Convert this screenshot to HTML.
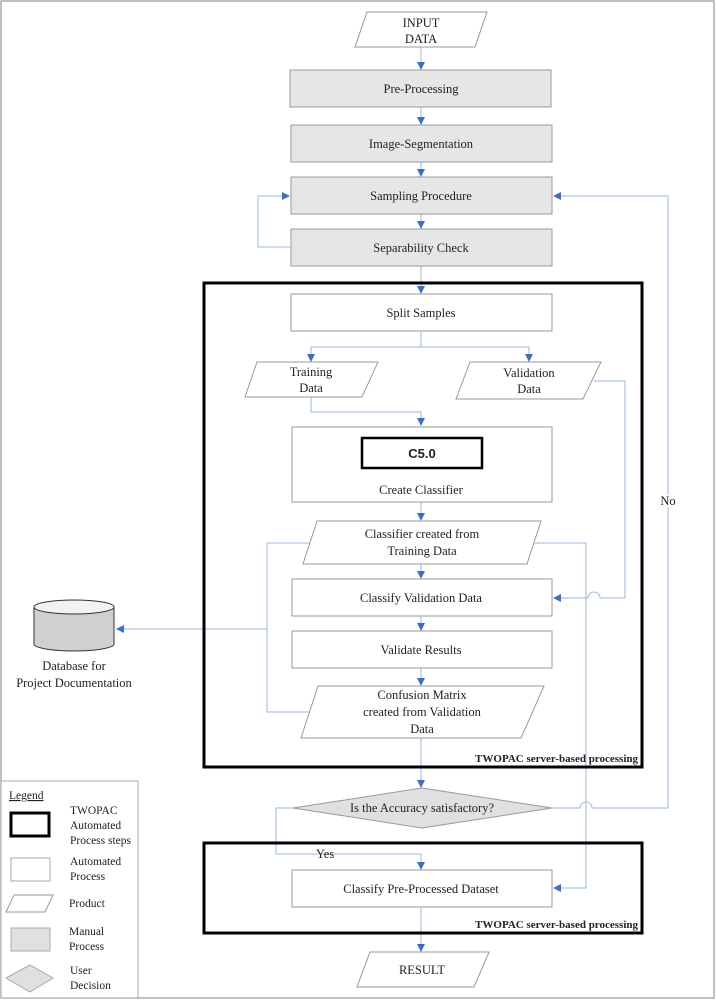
<!DOCTYPE html>
<html><head><meta charset="utf-8"><style>
html,body{margin:0;padding:0;background:#fff}
svg{display:block}
text{font-family:"Liberation Serif",serif;font-size:12.5px;fill:#222}
.b{font-family:"Liberation Sans",sans-serif;font-weight:bold;font-size:13px}
.tw{font-weight:bold;font-size:11px}
</style></head><body>
<svg width="716" height="1000" viewBox="0 0 716 1000" xmlns="http://www.w3.org/2000/svg">
<defs><marker id="a" markerWidth="8" markerHeight="8" refX="7" refY="4" orient="auto" markerUnits="userSpaceOnUse"><path d="M0,0 L8,4 L0,8 z" fill="#3b6fc4"/></marker></defs>
<rect x="1" y="1" width="713" height="997" fill="#fff" stroke="#aaa" stroke-width="1.5"/>
<g fill="none" stroke="#9ab8e0" stroke-width="1">
<path d="M421,47 V69" marker-end="url(#a)"/>
<path d="M421,107 V124" marker-end="url(#a)"/>
<path d="M421,162 V176" marker-end="url(#a)"/>
<path d="M421,214 V228" marker-end="url(#a)"/>
<path d="M290,247 H258 V196 H289" marker-end="url(#a)"/>
<path d="M421,266 V293" marker-end="url(#a)"/>
<path d="M421,331 V347 H311 V361" marker-end="url(#a)"/>
<path d="M421,347 H529 V361" marker-end="url(#a)"/>
<path d="M311,397 V412 H421 V425" marker-end="url(#a)"/>
<path d="M594,381 H625 V598 H600 A6,6 0 0 0 588,598 H554" marker-end="url(#a)"/>
<path d="M421,502 V520" marker-end="url(#a)"/>
<path d="M421,564 V578" marker-end="url(#a)"/>
<path d="M421,616 V630" marker-end="url(#a)"/>
<path d="M421,668 V685" marker-end="url(#a)"/>
<path d="M421,738 V787" marker-end="url(#a)"/>
<path d="M312,543 H267 V712 H309"/>
<path d="M267,629 H117" marker-end="url(#a)"/>
<path d="M532,543 H586 V888 H554" marker-end="url(#a)"/>
<path d="M552,808 H580 A6,6 0 0 1 592,808 H668 V196 H554" marker-end="url(#a)"/>
<path d="M293,808 H276 V854 H421 V869" marker-end="url(#a)"/>
<path d="M421,907 V951" marker-end="url(#a)"/>
</g>
<rect x="204" y="283" width="438" height="484" fill="none" stroke="#000" stroke-width="3"/>
<rect x="204" y="843" width="438" height="90" fill="none" stroke="#000" stroke-width="3"/>
<g stroke="#999" stroke-width="1">
<polygon points="367,12 487,12 475,47 355,47" fill="#fff"/>
<rect x="290" y="70" width="261" height="37" fill="#e6e6e6"/>
<rect x="291" y="125" width="261" height="37" fill="#e6e6e6"/>
<rect x="291" y="177" width="261" height="37" fill="#e6e6e6"/>
<rect x="291" y="229" width="261" height="37" fill="#e6e6e6"/>
<rect x="291" y="294" width="261" height="37" fill="#fff"/>
<polygon points="257,362 378,362 362,397 245,397" fill="#fff"/>
<polygon points="470,362 601,362 583,399 456,399" fill="#fff"/>
<rect x="292" y="427" width="260" height="75" fill="#fff"/>
<polygon points="317,521 541,521 527,564 303,564" fill="#fff"/>
<rect x="292" y="579" width="260" height="37" fill="#fff"/>
<rect x="292" y="631" width="260" height="37" fill="#fff"/>
<polygon points="318,686 544,686 521,738 301,738" fill="#fff"/>
<polygon points="293,808 422,788 552,808 422,828" fill="#e0e0e0"/>
<rect x="292" y="870" width="260" height="37" fill="#fff"/>
<polygon points="370,952 489,952 474,987 357,987" fill="#fff"/>
</g>
<rect x="362" y="438" width="120" height="30" fill="#fff" stroke="#000" stroke-width="2.5"/>
<!-- database -->
<path d="M34,607 V644 A40,7 0 0 0 114,644 V607" fill="#d0d0d0" stroke="#333"/>
<ellipse cx="74" cy="607" rx="40" ry="7" fill="#f2f2f2" stroke="#333"/>
<g text-anchor="middle">
<text x="421" y="27">INPUT</text><text x="421" y="43">DATA</text>
<text x="421" y="93">Pre-Processing</text>
<text x="421" y="148">Image-Segmentation</text>
<text x="421" y="200">Sampling Procedure</text>
<text x="421" y="252">Separability Check</text>
<text x="421" y="317">Split Samples</text>
<text x="311" y="376">Training</text><text x="311" y="392">Data</text>
<text x="529" y="377">Validation</text><text x="529" y="393">Data</text>
<text class="b" x="422" y="458">C5.0</text>
<text x="421" y="494">Create Classifier</text>
<text x="422" y="538">Classifier created from</text><text x="422" y="555">Training Data</text>
<text x="421" y="602">Classify Validation Data</text>
<text x="421" y="654">Validate Results</text>
<text x="422" y="699">Confusion Matrix</text><text x="422" y="716">created from Validation</text><text x="422" y="733">Data</text>
<text x="422" y="812">Is the Accuracy satisfactory?</text>
<text x="421" y="893">Classify Pre-Processed Dataset</text>
<text x="422" y="974">RESULT</text>
<text x="74" y="670">Database for</text><text x="74" y="687">Project Documentation</text>
<text x="668" y="505" style="paint-order:stroke;stroke:#fff;stroke-width:4">No</text>
</g>
<text x="316" y="858">Yes</text>
<text class="tw" x="638" y="762" text-anchor="end">TWOPAC server-based processing</text>
<text class="tw" x="638" y="928" text-anchor="end">TWOPAC server-based processing</text>
<!-- legend -->
<rect x="1" y="781" width="137" height="217" fill="#fff" stroke="#aaa"/>
<text x="9" y="799" style="font-size:11.5px;text-decoration:underline">Legend</text>
<rect x="11" y="813" width="38" height="23" fill="#fff" stroke="#000" stroke-width="3"/>
<text x="70" y="814" style="font-size:11.5px">TWOPAC</text>
<text x="70" y="829" style="font-size:11.5px">Automated</text>
<text x="70" y="844" style="font-size:11.5px">Process steps</text>
<rect x="11" y="858" width="39" height="23" fill="#fff" stroke="#aaa"/>
<text x="70" y="865" style="font-size:11.5px">Automated</text>
<text x="70" y="880" style="font-size:11.5px">Process</text>
<polygon points="14,895 53,895 45,912 6,912" fill="#fff" stroke="#999"/>
<text x="69" y="907" style="font-size:11.5px">Product</text>
<rect x="11" y="928" width="39" height="23" fill="#e0e0e0" stroke="#aaa"/>
<text x="69" y="935" style="font-size:11.5px">Manual</text>
<text x="69" y="950" style="font-size:11.5px">Process</text>
<polygon points="6,978 30,965 53,978 30,992" fill="#e0e0e0" stroke="#aaa"/>
<text x="70" y="974" style="font-size:11.5px">User</text>
<text x="70" y="989" style="font-size:11.5px">Decision</text>
</svg>
</body></html>
